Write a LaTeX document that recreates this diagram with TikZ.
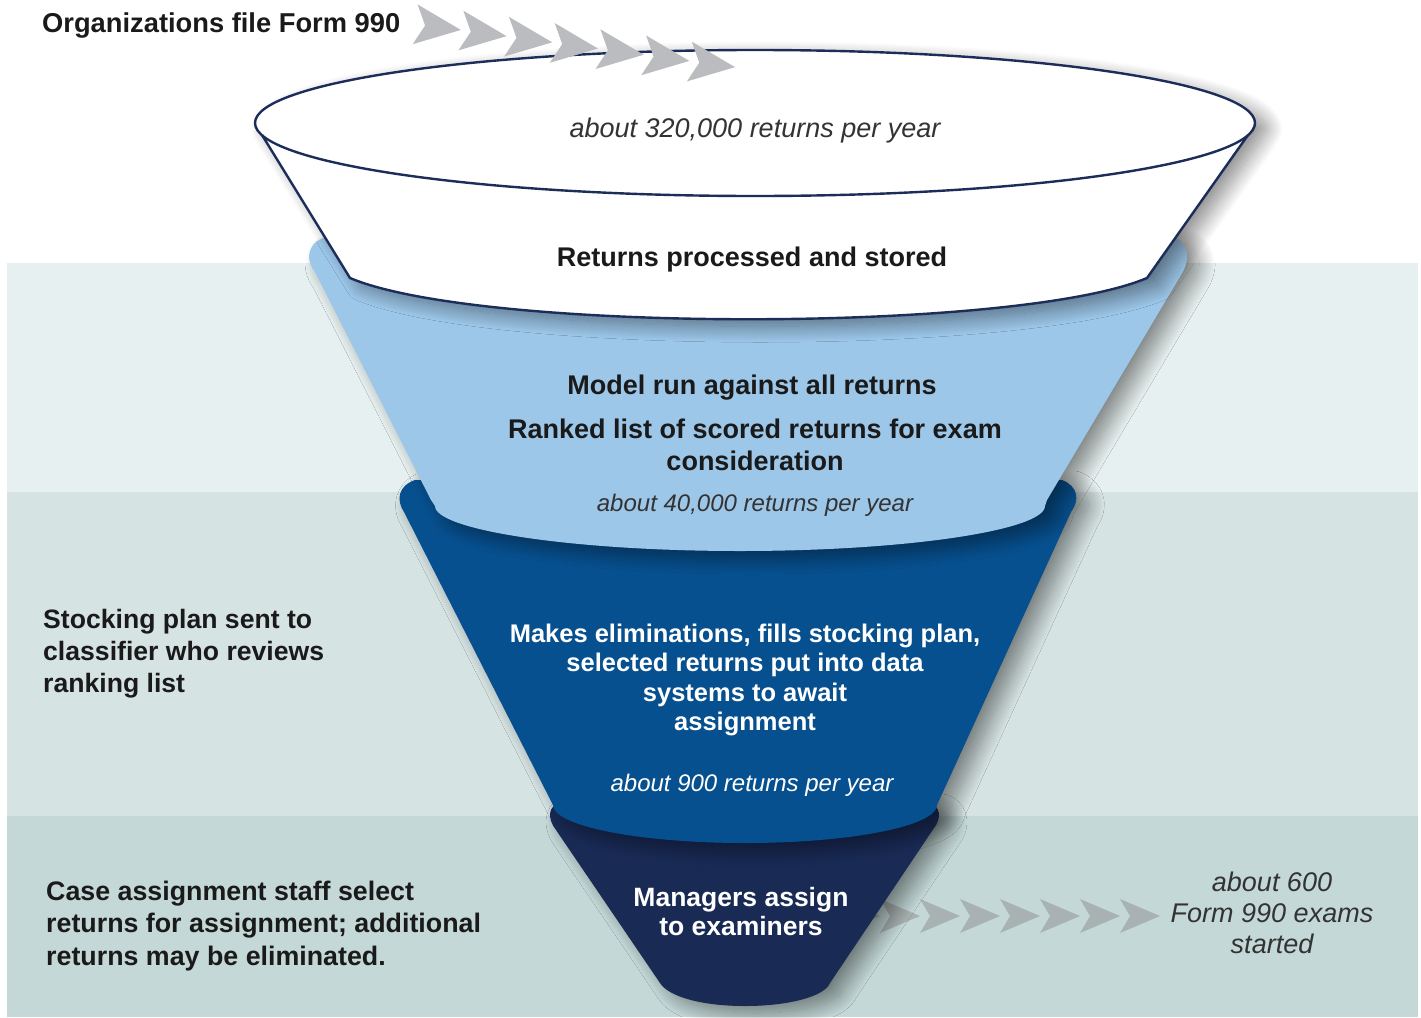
\documentclass[tikz,border=0pt]{standalone}
\usepackage{fontspec}
\setmainfont{Liberation Sans}
\usetikzlibrary{shadows.blur}
\definecolor{bandA}{HTML}{E7F0F0}
\definecolor{bandB}{HTML}{D6E3E3}
\definecolor{bandC}{HTML}{C3D8D7}
\definecolor{lightfun}{HTML}{9DC7E9}
\definecolor{midfun}{HTML}{07508F}
\definecolor{navyfun}{HTML}{192A55}
\definecolor{rimline}{HTML}{1C2D5A}
\definecolor{chevA}{HTML}{BBBCBF}
\definecolor{chevB}{HTML}{A9B2B2}
\definecolor{txtdark}{HTML}{1A1A1A}
\definecolor{txtgray}{HTML}{333333}
\tikzset{
  funshadow/.style={blur shadow={shadow xshift=12pt, shadow yshift=-7pt, shadow blur radius=16pt, shadow blur steps=24, shadow opacity=45}},
  bigb/.style={font=\fontsize{27}{32}\selectfont\bfseries, text=txtdark, inner sep=0pt},
  itl/.style={font=\fontsize{27}{31}\selectfont\itshape, text=txtgray, inner sep=0pt},
  itlsmall/.style={font=\fontsize{24}{28}\selectfont\itshape, inner sep=0pt},
  chevtop/.style={fill=chevA},
  chevbot/.style={fill=chevB},
}
\begin{document}
\begin{tikzpicture}[x=1pt,y=-1pt]
\useasboundingbox (0,0) rectangle (1421,1017);
% background bands
\fill[bandA] (7,263) rectangle (1418,492);
\fill[bandB] (7,492) rectangle (1418,816);
\fill[bandC] (7,816) rectangle (1418,1017);
% bottom chevrons
\foreach \i in {0,...,7}
  \fill[chevbot, shift={(860+40*\i,916)}] (-20,-17) -- (20,0) -- (-20,17) -- (-10,0) -- cycle;
% navy section
\path[fill=navyfun, funshadow] (556,830) -- (660,983) .. controls (668,996) and (700,1006) .. (745,1006)
  .. controls (790,1006) and (825,996) .. (830,983) -- (934,828) .. controls (942,818) and (940,806) .. (930,803)
  -- (560,803) .. controls (548,806) and (547,818) .. (556,830) -- cycle;
% dark blue section
\path[fill=midfun, funshadow] (404,512) -- (553,805) .. controls (553,826) and (639,843) .. (745,843)
  .. controls (851,843) and (937,826) .. (937,805) -- (1071,512) .. controls (1080,500) and (1078,486) .. (1062,480)
  -- (415,480) .. controls (398,486) and (396,500) .. (404,512) -- cycle;
% light blue section
\path[fill=lightfun, funshadow] (315,272) -- (431,500) .. controls (433,503) .. (435,506)
  .. controls (435,530) and (572,551) .. (740,551) .. controls (908,551) and (1045,530) .. (1045,506)
  .. controls (1046,503) .. (1047,500) -- (1181,275) .. controls (1192,258) and (1188,240) .. (1170,236)
  -- (330,236) .. controls (308,240) and (304,258) .. (315,272) -- cycle;
% white cup
\path[fill=white, funshadow] (262,135) -- (350,278) .. controls (480,333) and (1017,333) .. (1147,278)
  -- (1248,135) -- (1255,123) .. controls (1255,83) and (1031,50) .. (755,50)
  .. controls (479,50) and (255,83) .. (255,123) -- cycle;
\draw[rimline, line width=2.4pt, line join=round] (262,135) -- (350,278) .. controls (480,333) and (1017,333) .. (1147,278) -- (1248,135);
\draw[rimline, line width=2.4pt] (755,123) ellipse [x radius=500, y radius=73];
% top chevrons
\foreach \i in {0,...,6}
  \fill[chevtop, shift={(437+45.7*\i,27+6.2*\i)}, rotate=-7] (-22,-20) -- (24,0) -- (-22,20) -- (-12,0) -- cycle;
% texts
\node[bigb, font=\fontsize{27.3}{32}\selectfont\bfseries, anchor=base west] (org) at (42,32) {Organizations file Form 990};
\node[itl, anchor=base] (t320) at (755,137) {about 320,000 returns per year};
\node[bigb, anchor=base] (proc) at (752,266) {Returns processed and stored};
\node[bigb, anchor=base] (model) at (752,394) {Model run against all returns};
\node[bigb, align=center] (ranked) at (755,445) {Ranked list of scored returns for exam\\consideration};
\node[itlsmall, text=txtgray, anchor=base] (t40) at (755,511) {about 40,000 returns per year};
\node[font=\fontsize{25.5}{29.3}\selectfont\bfseries, text=white, inner sep=0pt, align=center] (makes) at (745,680)
  {Makes eliminations, fills stocking plan,\\selected returns put into data\\systems to await\\assignment};
\node[itlsmall, text=white, anchor=base] (t900) at (752,791) {about 900 returns per year};
\node[font=\fontsize{26.5}{29}\selectfont\bfseries, text=white, inner sep=0pt, align=center] (mgr) at (741,912)
  {Managers assign\\to examiners};
\node[itl, align=center] (t600) at (1272,913) {about 600\\Form 990 exams\\started};
\node[bigb, font=\fontsize{26.6}{32}\selectfont\bfseries, align=left, anchor=west] (stock) at (43,654) {Stocking plan sent to\\classifier who reviews\\ranking list};
\node[bigb, font=\fontsize{26.8}{32.5}\selectfont\bfseries, align=left, anchor=west] (cases) at (46,926) {Case assignment staff select\\returns for assignment; additional\\returns may be eliminated.};
\end{tikzpicture}
\end{document}
